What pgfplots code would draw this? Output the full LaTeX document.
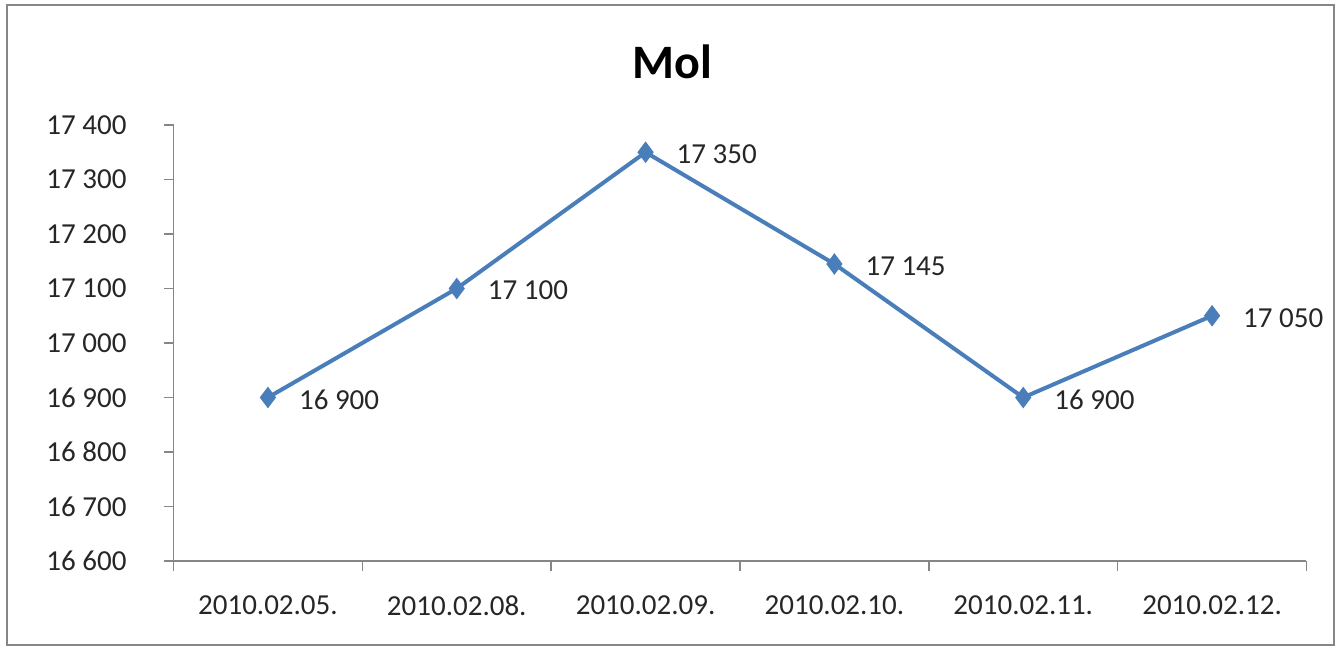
\documentclass[border=0pt]{standalone}
\usepackage{pgfplots}
\pgfplotsset{compat=1.18}
\usepackage{fontspec}
\setmainfont{Carlito}
\definecolor{linebl}{HTML}{4A7EBB}
\definecolor{axgray}{HTML}{868686}
\begin{document}
\begin{tikzpicture}
\useasboundingbox (0,0) rectangle (669.5pt,324pt);
\draw[axgray, line width=1pt] (3.5pt,1.5pt) rectangle (667pt,321.5pt);
\node[font=\fontsize{24}{28}\selectfont\bfseries, anchor=center] at (336pt,293pt) {Mol};
\begin{axis}[
  at={(86.75pt,43.5pt)}, anchor=south west,
  scale only axis, width=566.5pt, height=218pt,
  xmin=-0.5, xmax=5.5, ymin=16600, ymax=17400,
  axis lines=left, axis line style={axgray, line width=0.8pt, -},
  xtick={0,...,5},
  xticklabels={2010.02.05.,2010.02.08.,2010.02.09.,2010.02.10.,2010.02.11.,2010.02.12.},
  minor xtick={-0.5,0.5,...,5.5},
  major x tick style={draw=none},
  minor tick length=5pt, major tick length=5pt,
  ytick={16600,16700,...,17400},
  tick align=outside, tick style={axgray, line width=0.8pt},
  ticklabel style={font=\fontsize{14.5}{16}\selectfont, text=black!85},
  xticklabel style={yshift=-9pt},
  yticklabel style={xshift=-15pt},
  /pgf/number format/assume math mode=true,
  /pgf/number format/1000 sep={\ },
  /pgf/number format/fixed,
  scaled y ticks=false,
  clip=false,
  nodes near coords,
  nodes near coords align={horizontal},
  every node near coord/.append style={font=\fontsize{14.5}{16}\selectfont, text=black!85, anchor=west, xshift=12pt, yshift=-1pt},
]
\addplot[color=linebl, line width=2pt, mark=diamond*, mark size=5pt, mark options={fill=linebl, draw=linebl, line width=0.5pt}]
coordinates {(0,16900) (1,17100) (2,17350) (3,17145) (4,16900) (5,17050)};
\end{axis}
\end{tikzpicture}
\end{document}
